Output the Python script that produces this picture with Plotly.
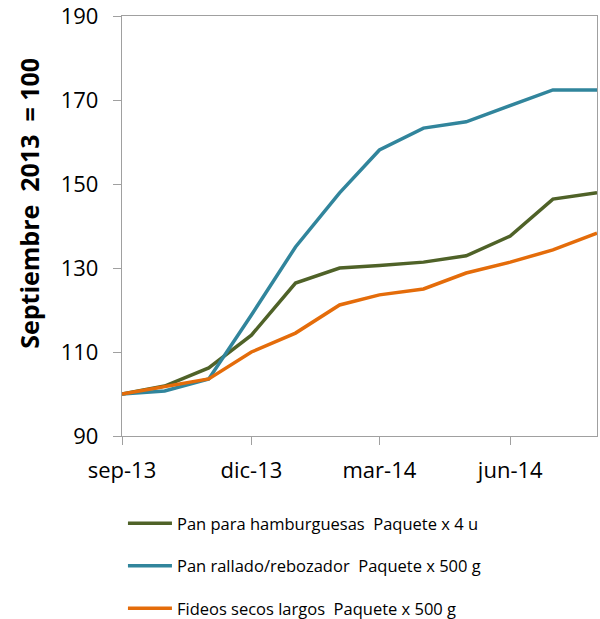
import plotly.graph_objects as go

# Monthly index, septiembre 2013 = 100
months = ["2013-09-01", "2013-10-01", "2013-11-01", "2013-12-01",
          "2014-01-01", "2014-02-01", "2014-03-01", "2014-04-01",
          "2014-05-01", "2014-06-01", "2014-07-01", "2014-08-01"]

hamburguesas = [100, 101.9, 106.2, 114.0, 126.4, 130.0, 130.6, 131.4, 132.9, 137.6, 146.4, 147.9]
rallado = [100, 100.7, 103.6, 118.8, 135.0, 147.9, 158.1, 163.3, 164.8, 168.6, 172.4, 172.4]
fideos = [100, 101.7, 103.6, 110.0, 114.5, 121.2, 123.6, 125.0, 128.8, 131.4, 134.3, 138.3]

series_names = ["Pan para hamburguesas  Paquete x 4 u",
                "Pan rallado/rebozador  Paquete x 500 g",
                "Fideos secos largos  Paquete x 500 g"]
colors = ["#4F6228", "#31859C", "#E46C0A"]

tick_dates = ["2013-09-01", "2013-12-01", "2014-03-01", "2014-06-01"]
tick_labels = ["sep-13", "dic-13", "mar-14", "jun-14"]
y_ticks = [90, 110, 130, 150, 170, 190]
y_title = "Septiembre  2013  = 100"

fig = go.Figure()
for i, (name, vals) in enumerate(zip(series_names, [hamburguesas, rallado, fideos])):
    fig.add_trace(go.Scatter(x=months, y=vals, mode="lines", name=name,
                             legendgroup=str(i),
                             line=dict(color=colors[i], width=3.5)))

font = "Open Sans, Liberation Sans, sans-serif"

fig.add_annotation(text="<b>%s</b>" % y_title, textangle=-90,
                   xref="paper", yref="paper", x=-0.196, y=0.555,
                   xanchor="center", yanchor="middle", showarrow=False,
                   font=dict(size=25, family=font, color="#000000"))

fig.update_layout(
    width=600, height=619,
    # no autoexpand: the legend below the plot must not shrink the plot area
    margin=dict(l=122, r=3, t=16, b=183, autoexpand=False),
    plot_bgcolor="white", paper_bgcolor="white",
    font=dict(family=font, color="#000000"),
    showlegend=True,
    legend=dict(x=0.002, xanchor="left", y=-0.167, yanchor="top",
                orientation="v", tracegroupgap=18, itemwidth=44,
                font=dict(size=16.5, family=font, color="#000000")),
    xaxis=dict(type="date", range=["2013-09-01", "2014-08-01"],
               tickvals=tick_dates, ticktext=tick_labels,
               ticks="outside", ticklen=8, tickcolor="#A0A0A0",
               ticklabelstandoff=6, ticklabeloverflow="allow",
               showgrid=False, zeroline=False, automargin=False,
               showline=True, linecolor="#A0A0A0", linewidth=1.3, mirror=True,
               tickfont=dict(size=22)),
    yaxis=dict(range=[90, 190], tickvals=y_ticks,
               ticks="outside", ticklen=8, tickcolor="#A0A0A0",
               ticklabelstandoff=10, ticklabeloverflow="allow",
               showgrid=False, zeroline=False, automargin=False,
               showline=True, linecolor="#A0A0A0", linewidth=1.3, mirror=True,
               tickfont=dict(size=22)),
)

# drop the default 8px body margin so the 600x619 figure fills the window
fig.write_html("out.html", config={"displayModeBar": False, "responsive": False},
               post_script="document.body.style.margin='0';")
